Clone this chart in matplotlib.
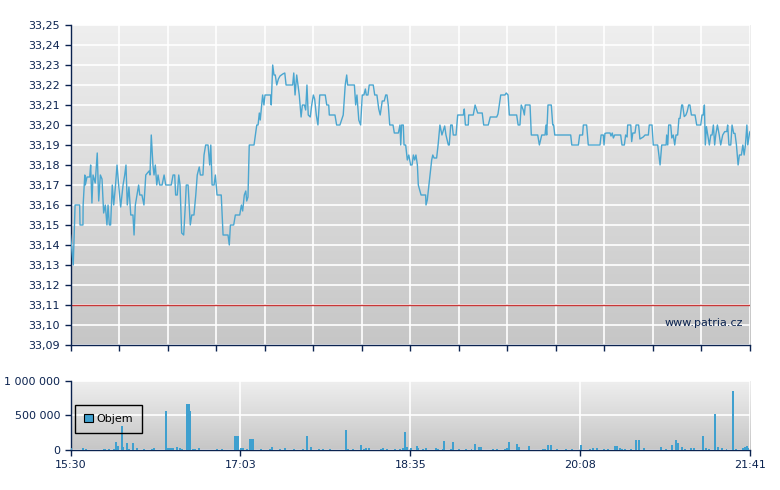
import matplotlib

matplotlib.use("Agg")

import matplotlib.pyplot as plt
import numpy as np
from matplotlib.patches import Patch
from matplotlib.ticker import FuncFormatter

# minutes after 15:30 and last price
price_min = [
    0.0, 0.5, 1.5, 2.5, 5.0, 5.2, 5.9, 6.8, 6.9, 7.8, 8.1, 9.0, 10.5, 11.0, 11.7, 12.3, 13.5,
    14.6, 15.4, 16.3, 17.2, 18.1, 19.0, 19.9, 20.5, 21.2, 21.9, 22.8, 23.6, 24.5, 25.4, 26.3,
    27.4, 28.7, 29.6, 30.3, 31.0, 31.9, 32.9, 34.1, 34.7, 35.4, 36.3, 37.2, 37.8, 39.0, 40.1,
    41.1, 42.9, 43.4, 44.1, 45.0, 45.6, 46.3, 47.1, 47.8, 48.7, 50.0, 51.1, 52.0, 55.0, 56.0,
    56.9, 57.4, 58.3, 59.1, 59.8, 60.7, 61.8, 62.7, 63.2, 64.2, 65.4, 66.2, 67.4, 68.4, 69.2,
    70.3, 70.9, 72.3, 72.9, 73.8, 75.1, 76.0, 76.6, 77.3, 78.4, 79.1, 80.0, 82.3, 83.3, 86.0,
    86.7, 87.3, 89.1, 90.0, 92.4, 93.3, 94.0, 94.9, 95.7, 96.2, 96.9, 97.6, 100.2, 101.7,
    102.4, 103.1, 103.6, 104.9, 105.6, 106.2, 109.3, 109.6, 110.4, 111.1, 111.8, 112.6,
    113.5, 114.4, 115.9, 117.0, 117.7, 121.3, 121.9, 122.6, 123.5, 124.2, 124.9, 125.9,
    126.6, 127.7, 128.4, 129.1, 129.8, 130.9, 131.7, 132.6, 133.3, 134.2, 135.1, 136.1,
    139.1, 139.9, 141.0, 141.3, 144.4, 145.3, 147.1, 148.9, 150.0, 150.8, 151.3, 155.0,
    155.7, 156.4, 157.4, 158.4, 159.3, 160.2, 161.0, 161.5, 162.4, 163.1, 165.3, 166.1,
    167.3, 168.3, 169.1, 170.2, 171.3, 172.1, 172.8, 173.5, 174.3, 176.1, 176.8, 179.0,
    179.9, 180.3, 180.8, 181.7, 182.1, 183.0, 183.9, 184.7, 185.7, 186.5, 187.2, 187.9,
    188.6, 189.4, 189.9, 191.4, 193.9, 194.1, 194.8, 195.7, 197.2, 197.8, 198.5, 199.9,
    200.7, 201.7, 202.8, 204.3, 205.0, 206.3, 206.8, 207.6, 208.4, 209.0, 210.5, 211.4,
    214.5, 215.0, 215.6, 217.2, 217.4, 219.9, 220.9, 222.3, 224.8, 225.6, 228.1, 229.2,
    232.7, 233.4, 234.9, 237.2, 237.9, 238.9, 239.6, 243.6, 244.4, 245.4, 246.1, 247.2,
    247.8, 248.3, 250.9, 251.6, 255.1, 256.0, 257.3, 259.1, 259.6, 260.0, 260.7, 262.5,
    263.3, 263.8, 264.4, 273.1, 273.7, 277.3, 278.0, 279.6, 280.0, 281.8, 282.7, 289.1,
    289.7, 290.9, 291.3, 291.8, 292.8, 294.6, 295.1, 295.8, 296.4, 297.1, 300.4, 301.1,
    302.4, 303.1, 303.9, 304.2, 305.9, 306.4, 307.0, 308.2, 308.8, 310.2, 310.9, 312.7,
    313.7, 315.5, 316.0, 317.5, 318.2, 320.6, 321.9, 322.8, 325.2, 325.5, 326.1, 326.6,
    327.7, 328.3, 329.1, 329.9, 330.6, 331.5, 332.2, 332.8, 333.7, 334.2, 335.1, 336.0,
    336.7, 337.5, 338.2, 339.0, 341.0, 341.9, 344.1, 344.8, 345.5, 346.1, 346.6, 347.2,
    348.1, 348.8, 349.6, 350.3, 351.0, 351.7, 352.3, 353.2, 354.2, 355.0, 356.1, 357.2,
    358.3, 358.8, 359.5, 360.5, 361.2, 362.1, 362.8, 363.6, 364.5, 365.2, 366.3, 367.1,
    367.8, 368.5, 369.3, 369.8, 370.7, 371.0,
]
price = [
    33.145, 33.14, 33.13, 33.16, 33.16, 33.15, 33.15, 33.15, 33.16, 33.175, 33.17, 33.174,
    33.174, 33.18, 33.161, 33.175, 33.171, 33.186, 33.162, 33.175, 33.173, 33.156, 33.16,
    33.15, 33.16, 33.15, 33.15, 33.17, 33.16, 33.169, 33.18, 33.17, 33.159, 33.17, 33.175,
    33.18, 33.16, 33.169, 33.155, 33.155, 33.145, 33.16, 33.165, 33.17, 33.165, 33.165,
    33.16, 33.175, 33.177, 33.175, 33.195, 33.18, 33.175, 33.18, 33.17, 33.175, 33.17,
    33.17, 33.175, 33.17, 33.17, 33.175, 33.175, 33.165, 33.165, 33.175, 33.17, 33.146,
    33.145, 33.16, 33.17, 33.17, 33.15, 33.155, 33.155, 33.165, 33.175, 33.179, 33.175,
    33.175, 33.185, 33.19, 33.19, 33.18, 33.19, 33.17, 33.17, 33.175, 33.165, 33.165,
    33.145, 33.145, 33.14, 33.15, 33.15, 33.155, 33.155, 33.16, 33.157, 33.165, 33.167,
    33.162, 33.164, 33.19, 33.19, 33.20, 33.20, 33.206, 33.2025, 33.215, 33.21, 33.215,
    33.215, 33.21, 33.23, 33.225, 33.225, 33.22, 33.223, 33.2245, 33.2255, 33.226, 33.22,
    33.22, 33.226, 33.215, 33.225, 33.22, 33.215, 33.204, 33.21, 33.21, 33.2075, 33.22,
    33.205, 33.204, 33.21, 33.215, 33.213, 33.205, 33.20, 33.215, 33.215, 33.21, 33.21,
    33.205, 33.205, 33.20, 33.20, 33.205, 33.22, 33.225, 33.22, 33.22, 33.21, 33.215,
    33.2025, 33.20, 33.215, 33.215, 33.218, 33.215, 33.215, 33.22, 33.22, 33.215, 33.215,
    33.208, 33.205, 33.212, 33.212, 33.215, 33.215, 33.21, 33.20, 33.20, 33.196, 33.196,
    33.20, 33.19, 33.20, 33.20, 33.19, 33.19, 33.1825, 33.185, 33.18, 33.18, 33.185,
    33.1825, 33.185, 33.18, 33.17, 33.165, 33.165, 33.16, 33.1625, 33.17, 33.1825, 33.185,
    33.1835, 33.1835, 33.19, 33.20, 33.195, 33.1995, 33.195, 33.19, 33.19, 33.20, 33.20,
    33.195, 33.195, 33.205, 33.205, 33.208, 33.20, 33.20, 33.205, 33.205, 33.21, 33.206,
    33.206, 33.20, 33.20, 33.204, 33.204, 33.2055, 33.215, 33.215, 33.216, 33.215, 33.205,
    33.205, 33.20, 33.20, 33.21, 33.2075, 33.205, 33.21, 33.21, 33.195, 33.195, 33.19,
    33.195, 33.195, 33.20, 33.195, 33.21, 33.21, 33.20, 33.20, 33.195, 33.195, 33.19,
    33.19, 33.195, 33.195, 33.20, 33.20, 33.19, 33.19, 33.195, 33.195, 33.19, 33.1958,
    33.196, 33.196, 33.1945, 33.196, 33.1935, 33.195, 33.195, 33.19, 33.19, 33.195,
    33.194, 33.20, 33.20, 33.1917, 33.196, 33.196, 33.20, 33.20, 33.193, 33.194, 33.195,
    33.195, 33.20, 33.20, 33.19, 33.19, 33.18, 33.19, 33.19, 33.195, 33.19, 33.20, 33.20,
    33.1935, 33.195, 33.19, 33.195, 33.195, 33.2033, 33.2033, 33.21, 33.21, 33.2042,
    33.205, 33.2067, 33.21, 33.21, 33.205, 33.205, 33.20, 33.20, 33.205, 33.205, 33.21,
    33.19, 33.1992, 33.1942, 33.19, 33.195, 33.195, 33.20, 33.19, 33.195, 33.20, 33.195,
    33.19, 33.195, 33.1967, 33.1967, 33.20, 33.19, 33.19, 33.20, 33.1958, 33.1958, 33.19,
    33.18, 33.185, 33.185, 33.19, 33.185, 33.19, 33.20, 33.19, 33.1958, 33.1967,
]

# minutes after 15:30 and traded volume
vol_min = [
    0.3, 6.8, 8.3, 18.3, 18.8, 20.9, 23.6, 24.8, 25.9, 28.1, 28.8, 31.0, 31.9, 34.3, 36.5,
    40.1, 44.3, 45.6, 52.3, 53.4, 54.3, 55.3, 56.1, 58.0, 60.0, 61.0, 63.4, 64.5, 65.4,
    66.7, 68.0, 70.0, 79.8, 82.9, 89.9, 90.8, 91.7, 92.9, 94.3, 96.2, 97.7, 98.6, 99.5,
    104.0, 108.9, 110.2, 114.4, 117.0, 122.0, 127.1, 129.0, 131.1, 135.7, 138.0, 141.7,
    150.4, 151.5, 154.4, 158.6, 160.4, 161.3, 163.1, 169.5, 170.8, 172.6, 177.2, 179.9,
    181.5, 182.8, 183.6, 185.9, 189.0, 189.9, 192.3, 194.1, 199.6, 200.8, 203.2, 204.1,
    207.7, 209.0, 212.1, 215.9, 218.9, 220.9, 223.2, 224.1, 230.8, 233.0, 237.2, 238.2,
    239.6, 243.6, 245.0, 250.5, 258.0, 258.9, 260.9, 262.2, 265.6, 270.5, 273.6, 278.7,
    283.6, 285.4, 287.6, 291.3, 293.5, 297.3, 298.4, 300.0, 301.0, 302.8, 305.9, 308.8,
    310.6, 313.3, 322.4, 325.1, 328.3, 330.4, 331.9, 333.7, 335.5, 338.8, 340.6, 345.3,
    347.0, 348.8, 351.7, 353.7, 355.5, 358.2, 361.6, 363.4, 367.0, 368.1, 369.2, 370.1,
]
vol = [
    24000, 29000, 14000, 14000, 14000, 14000, 14000, 115000, 58000, 346000, 38000, 100000,
    19000, 100000, 29000, 14000, 14000, 29000, 562000, 29000, 29000, 29000, 29000, 48000,
    29000, 19000, 668000, 668000, 567000, 14000, 14000, 29000, 14000, 14000, 202000,
    202000, 202000, 29000, 29000, 14000, 159000, 159000, 159000, 14000, 14000, 38000,
    14000, 29000, 14000, 14000, 202000, 38000, 14000, 14000, 14000, 288000, 14000, 14000,
    72000, 14000, 29000, 29000, 14000, 29000, 14000, 14000, 14000, 29000, 260000, 38000,
    24000, 58000, 24000, 14000, 24000, 24000, 14000, 14000, 135000, 14000, 120000, 14000,
    14000, 14000, 87000, 43000, 43000, 14000, 14000, 14000, 29000, 115000, 87000, 38000,
    58000, 14000, 14000, 72000, 72000, 14000, 14000, 14000, 72000, 14000, 29000, 29000,
    14000, 14000, 58000, 58000, 29000, 14000, 14000, 14000, 149000, 149000, 29000, 38000,
    14000, 72000, 144000, 106000, 38000, 14000, 29000, 29000, 202000, 29000, 14000,
    519000, 38000, 29000, 14000, 851000, 14000, 29000, 38000, 58000, 29000,
]

time_labels = ["15:30", "17:03", "18:35", "20:08", "21:41"]
session_len = 371
ref_price = 33.11

navy = "#0b2350"
line_blue = "#4aa6d0"
bar_blue = "#3fa0cf"

plt.rcParams.update({"font.family": "DejaVu Sans", "font.size": 8})

fig = plt.figure(figsize=(7.8, 4.9), dpi=100)
ax = fig.add_axes([70.5 / 780, 1 - 345 / 490, 679.5 / 780, 320 / 490])
axv = fig.add_axes([70.5 / 780, 1 - 450 / 490, 679.5 / 780, 69.3 / 490])


def gradient(a, top, bottom):
    g = np.linspace(0, 1, 256)[:, None]
    c0 = np.array(matplotlib.colors.to_rgb(top))
    c1 = np.array(matplotlib.colors.to_rgb(bottom))
    img = c0 + (c1 - c0) * g[:, :, None]
    a.imshow(img, extent=[0, 1, 0, 1], transform=a.transAxes, aspect="auto",
             zorder=0, interpolation="bilinear")


for a in (ax, axv):
    gradient(a, "#efefef", "#c6c6c6")
    for s in ("top", "right"):
        a.spines[s].set_visible(False)
    for s in ("left", "bottom"):
        a.spines[s].set_color(navy)
        a.spines[s].set_linewidth(1.0)
    a.tick_params(colors=navy, labelcolor=navy, length=4, width=1, direction="out")
    a.set_xlim(0, session_len)
    a.set_axisbelow(True)

# price panel
ax.set_ylim(33.09, 33.25)
ax.set_yticks(np.round(np.arange(33.09, 33.2501, 0.01), 2))
ax.yaxis.set_major_formatter(FuncFormatter(lambda v, p: f"{v:.2f}".replace(".", ",")))
ax.set_xticks(np.linspace(0, session_len, 15))
ax.set_xticklabels([])
ax.grid(True, color="white", linewidth=1.2)
ax.axhline(ref_price, color="#c83737", linewidth=1.0, zorder=2)
ax.plot(price_min, price, color=line_blue, linewidth=1.0, zorder=3)
ax.text(0.99, 0.069, "www.patria.cz", transform=ax.transAxes, ha="right", va="center",
        color=navy, fontsize=8, zorder=4)

# volume panel
axv.set_ylim(0, 1_000_000)
axv.set_yticks([0, 500_000, 1_000_000])
axv.yaxis.set_major_formatter(FuncFormatter(lambda v, p: f"{int(v):,}".replace(",", " ")))
axv.set_xticks(np.linspace(0, session_len, 5))
axv.set_xticklabels(time_labels)
axv.grid(True, color="white", linewidth=1.2)
axv.bar(vol_min, vol, width=1.0, color=bar_blue, linewidth=0, zorder=3)
leg = axv.legend(handles=[Patch(facecolor=bar_blue, edgecolor="black", linewidth=0.8)],
                 labels=["Objem"], loc="upper left", bbox_to_anchor=(0.0066, 0.65),
                 borderaxespad=0, frameon=True, fancybox=False, framealpha=1,
                 handlelength=0.8, handleheight=0.8, handletextpad=0.35, borderpad=0.8,
                 fontsize=8)
leg.get_frame().set_facecolor("none")
leg.get_frame().set_edgecolor("black")
leg.get_frame().set_linewidth(1.0)
leg.set_zorder(5)

fig.savefig("out.png", dpi=100)
